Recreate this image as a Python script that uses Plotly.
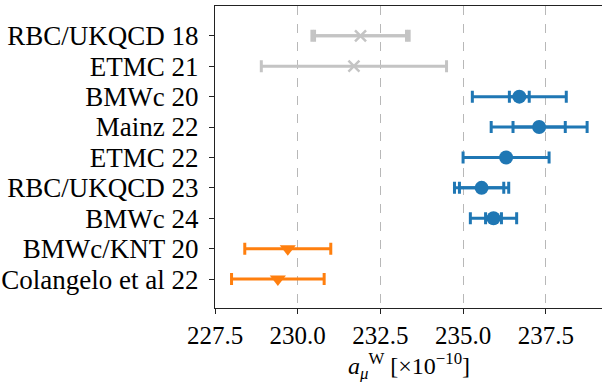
import plotly.graph_objects as go

labels = ["RBC/UKQCD 18", "ETMC 21", "BMWc 20", "Mainz 22", "ETMC 22",
          "RBC/UKQCD 23", "BMWc 24", "BMWc/KNT 20", "Colangelo et al 22"]
values = [231.9, 231.7, 236.7, 237.3, 236.3, 235.56, 235.92, 229.7, 229.4]
err_total = [1.47, 2.8, 1.42, 1.45, 1.3, 0.82, 0.70, 1.3, 1.4]
err_inner = [1.39, None, 0.3, 0.79, None, 0.67, 0.24, None, None]
groups = ["old", "old", "lat", "lat", "lat", "lat", "lat", "dd", "dd"]
xticks = [227.5, 230.0, 232.5, 235.0, 237.5]

styles = {
    "old": dict(color="#c4c4c4", symbol="x-thin", size=11),
    "lat": dict(color="#1f77b4", symbol="circle", size=14),
    "dd": dict(color="#ff7f0e", symbol="triangle-down", size=14),
}

fig = go.Figure()
for g, st in styles.items():
    idx = [i for i in range(len(labels)) if groups[i] == g]
    ys = [labels[i] for i in idx]
    xs = [values[i] for i in idx]
    fig.add_trace(go.Scatter(
        x=xs, y=ys, mode="markers",
        marker=dict(size=1, color="rgba(0,0,0,0)"),
        error_x=dict(type="data", array=[err_total[i] for i in idx],
                     color=st["color"], thickness=3, width=6),
        showlegend=False, hoverinfo="skip"))
    idx_in = [i for i in idx if err_inner[i] is not None]
    if idx_in:
        fig.add_trace(go.Scatter(
            x=[values[i] for i in idx_in], y=[labels[i] for i in idx_in],
            mode="markers", marker=dict(size=1, color="rgba(0,0,0,0)"),
            error_x=dict(type="data", array=[err_inner[i] for i in idx_in],
                         color=st["color"], thickness=3, width=6),
            showlegend=False, hoverinfo="skip"))
    mk = dict(color=st["color"], symbol=st["symbol"], size=st["size"])
    if g == "old":
        mk["line"] = dict(color=st["color"], width=2.5)
    else:
        mk["line"] = dict(width=0)
    fig.add_trace(go.Scatter(x=xs, y=ys, mode="markers", marker=mk,
                             showlegend=False))

fig.update_layout(
    width=602, height=382,
    margin=dict(l=215, r=0, t=6, b=74),
    plot_bgcolor="white", paper_bgcolor="white",
    font=dict(family="Liberation Serif", color="black"),
)
fig.update_xaxes(
    range=[227.5, 239.2], tickmode="array", tickvals=xticks,
    ticktext=[f"{v:.1f}" for v in xticks],
    showgrid=True, gridcolor="#b8b8b8", griddash="dash", gridwidth=1,
    showline=True, linecolor="#222", linewidth=1.3, mirror=True,
    ticks="outside", ticklen=5, tickwidth=1.3, tickcolor="#222",
    tickfont=dict(size=25, family="Liberation Serif"),
    zeroline=False, automargin=False,
)
fig.update_yaxes(
    type="category", categoryorder="array", categoryarray=labels[::-1],
    tickmode="array", tickvals=labels, ticktext=labels,
    range=[-0.95, 8.98],
    showgrid=False, zeroline=False, automargin=False,
    showline=True, linecolor="#222", linewidth=1.3,
    ticks="outside", ticklen=5, tickwidth=1.3, tickcolor="#222",
    ticklabelstandoff=5,
    tickfont=dict(size=27, family="Liberation Serif"),
)
fig.add_annotation(
    text="<i>a</i><sub><i>μ</i></sub><sup>W</sup> [×10<sup>−10</sup>]",
    xref="paper", yref="paper", x=0.5, y=-0.192, xanchor="center", yanchor="middle",
    showarrow=False, font=dict(size=24, family="Liberation Serif", color="black"),
)

fig.write_html("out.html", config={"displayModeBar": False},
               post_script="document.body.style.margin='0';document.body.style.overflow='hidden';")
